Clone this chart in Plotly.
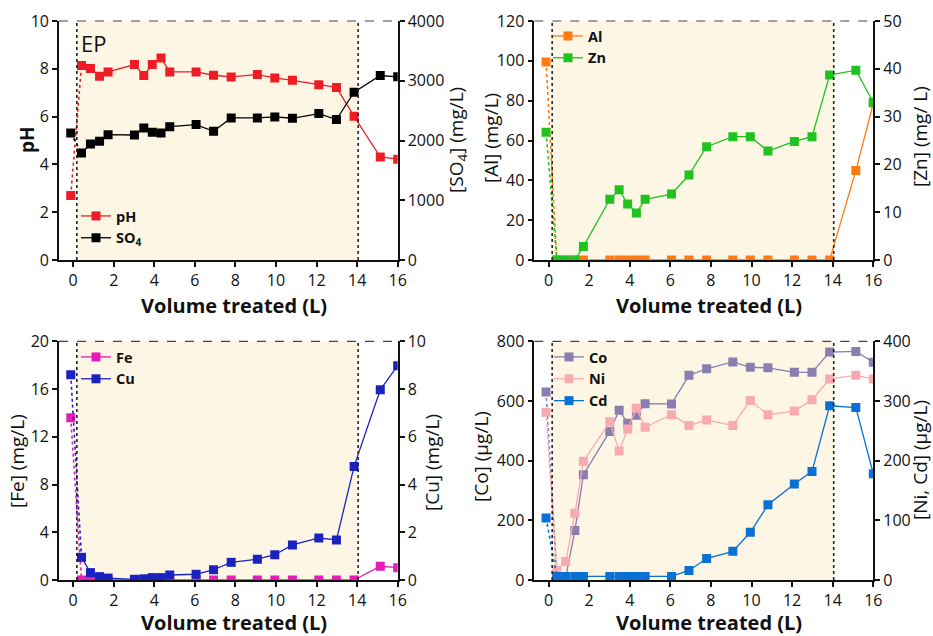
import plotly.graph_objects as go

# ---------------- data ----------------
vol = [-0.12, 0.41, 0.85, 1.30, 1.72, 3.02, 3.48, 3.90, 4.33, 4.76, 6.06, 6.92,
       7.79, 9.08, 9.94, 10.81, 12.11, 12.98, 13.85, 15.14, 16.0]
ph = [2.7, 8.14, 8.01, 7.69, 7.87, 8.18, 7.72, 8.18, 8.45, 7.87, 7.87, 7.73,
      7.66, 7.76, 7.62, 7.52, 7.33, 7.22, 6.01, 4.31, 4.22]
so4 = [2126, 1790, 1941, 1986, 2098, 2092, 2210, 2137, 2126, 2232, 2266, 2154,
       2378, 2378, 2394, 2372, 2450, 2350, 2808, 3088, 3066]
al = [99.4, 0, 0, 0, 0, 0, 0, 0, 0, 0, 0, 0, 0, 0, 0, 0, 0, 0, 0, 44.9, 78.8]
zn = [26.7, 0, 0, 0, 2.8, 12.7, 14.7, 11.7, 9.85, 12.7, 13.8, 17.8, 23.7, 25.8,
      25.8, 22.8, 24.8, 25.8, 38.7, 39.7, 33.0]
fe = [13.6, 0, 0, 0, 0, 0, 0, 0, 0, 0, 0, 0, 0, 0, 0, 0, 0, 0, 0, 1.15, 1.03]
cu = [8.6, 0.95, 0.31, 0.14, 0.08, 0.03, 0.05, 0.1, 0.1, 0.21, 0.24, 0.43, 0.74,
      0.87, 1.06, 1.47, 1.76, 1.68, 4.76, 7.97, 8.98]
co = [630, 10, 10, 166, 353, 498, 569, 525, 552, 591, 590, 686, 708, 731, 713,
      711, 696, 696, 764, 766, 730]
ni = [281, 15.6, 31, 112, 199, 265, 216, 253, 288, 256, 277, 259, 268, 259, 301,
      277, 283, 302, 337, 343, 337]
cd = [104, 6, 6, 6, 6, 6, 6, 6, 6, 6, 6, 16, 36, 48, 80, 126, 161, 182, 292,
      289, 178]

ep_start, ep_end = 0.18, 14.05
x_ticks = [0, 2, 4, 6, 8, 10, 12, 14, 16]
x_title = "Volume treated (L)"

FONT = "Open Sans"
W, H = 933, 636

fig = go.Figure()


def add_series(name, ys, color, xa, ya, legend):
    # dotted first segment
    fig.add_trace(go.Scatter(x=vol[:2], y=ys[:2], mode="lines",
                             line=dict(color=color, width=1.6, dash="dot"),
                             xaxis=xa, yaxis=ya, showlegend=False,
                             hoverinfo="skip"))
    fig.add_trace(go.Scatter(x=vol[1:], y=ys[1:], mode="lines+markers", name=name,
                             line=dict(color=color, width=1.3),
                             marker=dict(symbol="square", size=9, color=color),
                             xaxis=xa, yaxis=ya, legend=legend))
    fig.add_trace(go.Scatter(x=vol[:1], y=ys[:1], mode="markers",
                             marker=dict(symbol="square", size=9, color=color),
                             xaxis=xa, yaxis=ya, showlegend=False))


# panel 1
add_series("pH", ph, "#ee1c24", "x", "y", "legend")
add_series("SO<sub>4</sub>", so4, "#000000", "x", "y2", "legend")
# panel 2
add_series("Al", al, "#ff7a10", "x2", "y3", "legend2")
add_series("Zn", zn, "#1fc21f", "x2", "y4", "legend2")
# panel 3
add_series("Fe", fe, "#e61cb8", "x3", "y5", "legend3")
add_series("Cu", cu, "#1a22c0", "x3", "y6", "legend3")
# panel 4
add_series("Co", co, "#8a7db0", "x4", "y7", "legend4")
add_series("Ni", ni, "#f9a9b2", "x4", "y8", "legend4")
add_series("Cd", cd, "#0a70d4", "x4", "y8", "legend4")

left_dom = [59 / W, 397.7 / W]
right_dom = [534.3 / W, 873.3 / W]
top_dom = [1 - 260 / H, 1 - 21 / H]
bot_dom = [1 - 580 / H, 1 - 341.3 / H]

tickf = dict(family=FONT, size=16, color="#111")
titlef = dict(family=FONT, size=19, color="#111")
phtitlef = dict(family=FONT, size=19, color="#111", weight="bold")
xtitlef = dict(family=FONT, size=20, color="#111", weight="bold")

common_ax = dict(showgrid=False, zeroline=False, showline=True, linecolor="#111",
                 linewidth=1.6, ticks="outside", ticklen=5, tickwidth=1.5,
                 tickcolor="#111", tickfont=tickf, automargin=False)


def xaxis(dom, anchor):
    return dict(common_ax, domain=dom, anchor=anchor, range=[-0.7, 16],
                tickvals=x_ticks)


def yaxis(dom, anchor, rng, dt):
    return dict(common_ax, domain=dom, anchor=anchor, range=rng, dtick=dt,
                tick0=0)


def y2axis(over, anchor, rng, dt):
    return dict(common_ax, overlaying=over, anchor=anchor, side="right",
                range=rng, dtick=dt, tick0=0)


fig.update_layout(
    width=W, height=H, margin=dict(l=0, r=0, t=0, b=0),
    template="none", plot_bgcolor="white", paper_bgcolor="white",
    xaxis=xaxis(left_dom, "y"),
    yaxis=yaxis(top_dom, "x", [0, 10], 2),
    yaxis2=y2axis("y", "x", [0, 4000], 1000),
    xaxis2=xaxis(right_dom, "y3"),
    yaxis3=yaxis(top_dom, "x2", [0, 120], 20),
    yaxis4=y2axis("y3", "x2", [0, 50], 10),
    xaxis3=xaxis(left_dom, "y5"),
    yaxis5=yaxis(bot_dom, "x3", [0, 20], 4),
    yaxis6=y2axis("y5", "x3", [0, 10], 2),
    xaxis4=xaxis(right_dom, "y7"),
    yaxis7=yaxis(bot_dom, "x4", [0, 800], 200),
    yaxis8=y2axis("y7", "x4", [0, 400], 100),
    showlegend=True,
)

legf = dict(family=FONT, size=14.5, color="#111", weight="bold")
leg_common = dict(font=legf, bgcolor="rgba(0,0,0,0)", borderwidth=0,
                  xanchor="left", yanchor="top", tracegroupgap=0,
                  itemclick=False)
fig.update_layout(
    legend=dict(leg_common, x=76 / W, y=1 - 200 / H),
    legend2=dict(leg_common, x=548 / W, y=1 - 20 / H),
    legend3=dict(leg_common, x=76 / W, y=1 - 341 / H),
    legend4=dict(leg_common, x=549 / W, y=1 - 341 / H),
)

# shaded EP region, dotted boundaries, top border
for xa, ya in [("x", "y"), ("x2", "y3"), ("x3", "y5"), ("x4", "y7")]:
    fig.add_shape(type="rect", xref=xa, yref=f"{ya} domain", x0=ep_start,
                  x1=ep_end, y0=0, y1=1, fillcolor="#fdf6e4", line_width=0,
                  layer="below")
    for xv in (ep_start, ep_end):
        fig.add_shape(type="line", xref=xa, yref=f"{ya} domain", x0=xv, x1=xv,
                      y0=0, y1=1, line=dict(color="#222", width=1.6, dash="dot"),
                      layer="above")
    fig.add_shape(type="line", xref=f"{xa} domain", yref=f"{ya} domain", x0=0,
                  x1=1, y0=1, y1=1, line=dict(color="#444", width=1.2,
                                              dash="dash"), layer="above")

fig.add_annotation(text="EP", xref="x", yref="y domain", x=0.3, y=0.91,
                   xanchor="left", yanchor="middle", showarrow=False,
                   font=dict(family=FONT, size=22, color="#111"))

# axis titles (placed in pixel positions of the figure)
y_titles = [
    ("pH", 27, 140, phtitlef),
    ("[SO<sub>4</sub>] (mg/L)", 457, 140, titlef),
    ("[Al] (mg/L)", 491, 138, titlef),
    ("[Zn] (mg/ L)", 920, 137, titlef),
    ("[Fe] (mg/L)", 17, 461, titlef),
    ("[Cu] (mg/L)", 432, 463, titlef),
    ("[Co] (µg/L)", 481, 457, titlef),
    ("[Ni, Cd] (µg/L)", 920, 460, titlef),
]
for txt, px, py, f in y_titles:
    fig.add_annotation(text=txt, xref="paper", yref="paper", x=px / W,
                       y=1 - py / H, xanchor="center", yanchor="middle",
                       textangle=-90, showarrow=False, font=f)
for px, py in [(234, 305), (709, 305), (234, 622), (709, 622)]:
    fig.add_annotation(text=x_title, xref="paper", yref="paper", x=px / W,
                       y=1 - py / H, xanchor="center", yanchor="middle",
                       showarrow=False, font=xtitlef)

fig.write_html("out.html", config={"displayModeBar": False},
               post_script="document.body.style.margin='0px';")
